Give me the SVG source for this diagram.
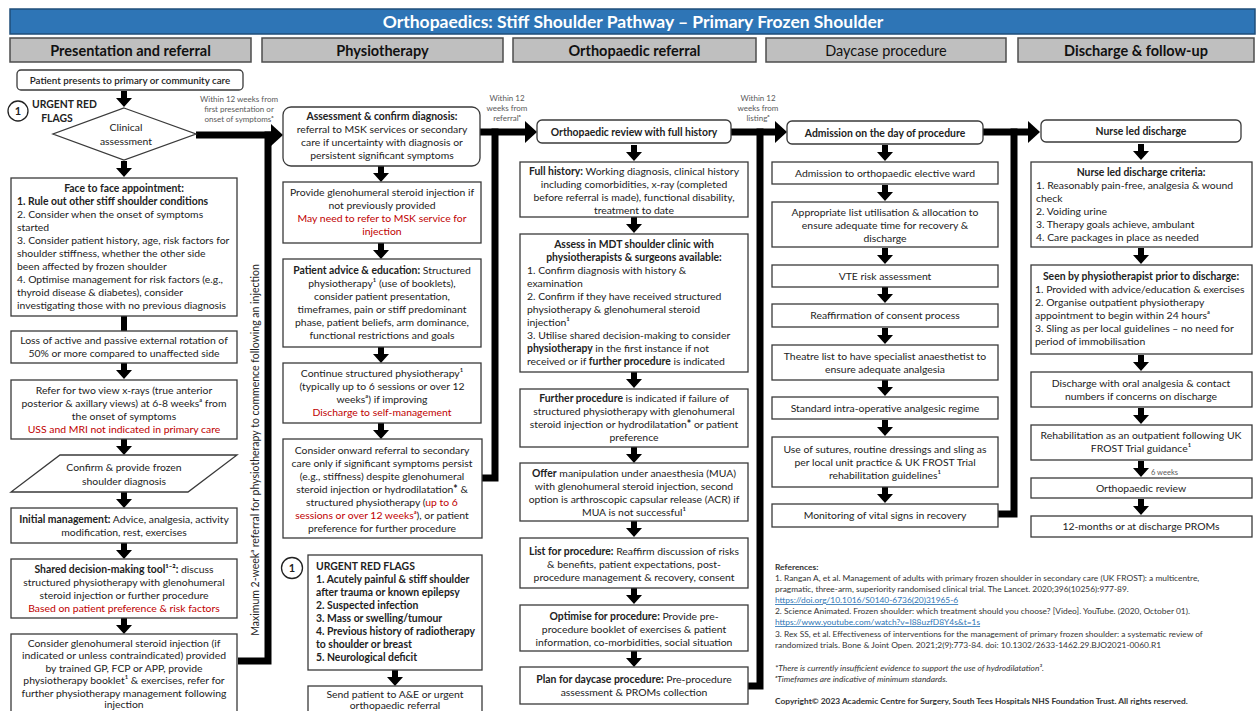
<svg xmlns="http://www.w3.org/2000/svg" width="1257" height="711" viewBox="0 0 1257 711">
<style>
text{font-family:Lato,"Liberation Sans",sans-serif;font-size:10.4px;fill:#222}
.c{text-anchor:middle}
.b{font-weight:bold}
.r{fill:#C00000}
.lbl{font-size:8px;fill:#595959}
.box{fill:#fff;stroke:#3a3a3a;stroke-width:1.3}
.hdr{fill:#BFBFBF;stroke:#4d4d4d;stroke-width:1.5}
.hdrt{font-size:14.5px;font-weight:bold;fill:#111;text-anchor:middle}
.conn{fill:none;stroke:#000;stroke-width:7}
.ref{font-size:8.4px;fill:#333}
.lnk{fill:#2E75B6;text-decoration:underline}
.it{font-style:italic}
</style>
<defs>
<path id="da" d="M-3,0H3V7H8L0,16L-8,7H-3Z" fill="#000"/>
</defs>
<rect width="1257" height="711" fill="#fff"/>

<g id="title">
<rect x="10" y="9" width="1245" height="25" fill="#2E75B6" stroke="#1F4E79" stroke-width="1.5"/>
<text x="633" y="27.5" class="c b" style="font-size:17.5px;fill:#fff">Orthopaedics: Stiff Shoulder Pathway – Primary Frozen Shoulder</text>
</g>

<g id="headers">
<g id="hdr-presentation"><rect class="hdr" x="10" y="38" width="241" height="24"/><text class="hdrt" x="130.5" y="55.5">Presentation and referral</text></g>
<g id="hdr-physio"><rect class="hdr" x="262" y="38" width="241" height="24"/><text class="hdrt" x="382.5" y="55.5">Physiotherapy</text></g>
<g id="hdr-ortho"><rect class="hdr" x="513" y="38" width="243" height="24"/><text class="hdrt" x="634.5" y="55.5">Orthopaedic referral</text></g>
<g id="hdr-daycase"><rect class="hdr" x="766" y="38" width="240" height="24"/><text class="hdrt" x="886" y="55.5" style="font-weight:normal">Daycase procedure</text></g>
<g id="hdr-discharge"><rect class="hdr" x="1018" y="38" width="236" height="24"/><text class="hdrt" x="1136" y="55.5">Discharge &amp; follow-up</text></g>
</g>

<g id="connectors">
<use href="#da" x="124" y="91"/>
<use href="#da" x="124" y="161"/>
<path class="conn" style="stroke-width:6" d="M124,316V331"/>
<use href="#da" x="124" y="363"/>
<use href="#da" x="124" y="439"/>
<use href="#da" x="124" y="492"/>
<use href="#da" x="124" y="543"/>
<use href="#da" x="124" y="618"/>
<use href="#da" x="381" y="166"/>
<use href="#da" x="381" y="243"/>
<use href="#da" x="381" y="347"/>
<use href="#da" x="381" y="423"/>
<use href="#da" x="395" y="670"/>
<use href="#da" x="634" y="145"/>
<use href="#da" x="634" y="217"/>
<use href="#da" x="634" y="372"/>
<use href="#da" x="634" y="447"/>
<use href="#da" x="634" y="521"/>
<use href="#da" x="634" y="588"/>
<use href="#da" x="634" y="651"/>
<use href="#da" x="885" y="145"/>
<use href="#da" x="885" y="185"/>
<use href="#da" x="885" y="248"/>
<use href="#da" x="885" y="287"/>
<use href="#da" x="885" y="328"/>
<use href="#da" x="885" y="380"/>
<use href="#da" x="885" y="420"/>
<use href="#da" x="885" y="487"/>
<use href="#da" x="1141" y="144"/>
<use href="#da" x="1141" y="248"/>
<use href="#da" x="1141" y="355"/>
<use href="#da" x="1141" y="408"/>
<use href="#da" x="1141" y="461"/>
<use href="#da" x="1141" y="499"/>
<text x="1151" y="475" style="font-size:7.5px;fill:#595959">6 weeks</text>

<path class="conn" d="M196,135H272"/>
<polygon points="271,124 283,135 271,146" fill="#000"/>
<path class="conn" d="M268,131.5V661H238"/>
<text class="lbl" x="239" y="102" text-anchor="middle">Within 12 weeks from</text>
<text class="lbl" x="239" y="112" text-anchor="middle">first presentation or</text>
<text class="lbl" x="239" y="122" text-anchor="middle">onset of symptomsᵃ</text>
<text transform="translate(259,450) rotate(-90)" class="c" style="font-size:10.5px">Maximum 2-weekᵃ referral for physiotherapy to commence following an injection</text>

<path class="conn" d="M480,132H526"/>
<polygon points="525,121 537,132 525,143" fill="#000"/>
<path class="conn" d="M495,128.5V478H482"/>
<text class="lbl" x="507" y="101" text-anchor="middle">Within 12</text>
<text class="lbl" x="507" y="111" text-anchor="middle">weeks from</text>
<text class="lbl" x="507" y="121" text-anchor="middle">referralᵃ</text>

<path class="conn" d="M731,132H776"/>
<polygon points="775,121 787,132 775,143" fill="#000"/>
<path class="conn" d="M760,128.5V686H748"/>
<text class="lbl" x="758" y="101" text-anchor="middle">Within 12</text>
<text class="lbl" x="758" y="111" text-anchor="middle">weeks from</text>
<text class="lbl" x="758" y="121" text-anchor="middle">listingᵃ</text>

<path class="conn" d="M983,132H1029"/>
<polygon points="1028,121 1040,132 1028,143" fill="#000"/>
<path class="conn" d="M1014,128.5V514H998"/>
</g>

<g id="n-patient-presents">
<rect class="box" x="17" y="70" width="226" height="20" rx="4"/>
<text x="130" y="84" class="c" style="font-weight:600;font-size:9.8px">Patient presents to primary or community care</text>
</g>
<g id="n-urgent-flag-1">
<circle cx="18" cy="111" r="10" fill="#fff" stroke="#222" stroke-width="1.3"/>
<text x="18" y="115" class="c b" style="font-size:11px">1</text>
<text x="32" y="108" class="b">URGENT RED</text>
<text x="57" y="122" class="c b">FLAGS</text>
</g>
<g id="n-clinical-assessment">
<polygon class="box" points="124,108 196,134 124,160 53,134"/>
<text x="126" y="131" class="c">Clinical</text>
<text x="126" y="145" class="c">assessment</text>
</g>
<g id="n-face-to-face">
<rect class="box" x="11" y="178" width="226" height="138"/>
<text x="124" y="192" class="c b">Face to face appointment:</text>
<text x="17" y="205" class="b">1. Rule out other stiff shoulder conditions</text>
<text x="17" y="218">2. Consider when the onset of symptoms</text>
<text x="17" y="231">started</text>
<text x="17" y="244">3. Consider patient history, age, risk factors for</text>
<text x="17" y="257">shoulder stiffness, whether the other side</text>
<text x="17" y="270">been affected by frozen shoulder</text>
<text x="17" y="283">4. Optimise management for risk factors (e.g.,</text>
<text x="17" y="296">thyroid disease &amp; diabetes), consider</text>
<text x="17" y="309">investigating those with no previous diagnosis</text>
</g>
<g id="n-loss-rotation">
<rect class="box" x="11" y="331" width="226" height="32"/>
<text x="124" y="344" class="c">Loss of active and passive external rotation of</text>
<text x="124" y="357" class="c">50% or more compared to unaffected side</text>
</g>
<g id="n-xrays">
<rect class="box" x="11" y="380" width="226" height="59"/>
<text x="124" y="394" class="c">Refer for two view x-rays (true anterior</text>
<text x="124" y="407" class="c">posterior &amp; axillary views) at 6-8 weeksᵃ from</text>
<text x="124" y="420" class="c">the onset of symptoms</text>
<text x="124" y="433" class="c r">USS and MRI not indicated in primary care</text>
</g>
<g id="n-confirm-diagnosis">
<polygon class="box" points="60,455 237,455 188,492 11,492"/>
<text x="124" y="471" class="c">Confirm &amp; provide frozen</text>
<text x="124" y="485" class="c">shoulder diagnosis</text>
</g>
<g id="n-initial-management">
<rect class="box" x="11" y="508" width="226" height="35"/>
<text x="124" y="523" class="c"><tspan class="b">Initial management:</tspan> Advice, analgesia, activity</text>
<text x="124" y="536" class="c">modification, rest, exercises</text>
</g>
<g id="n-shared-decision">
<rect class="box" x="11" y="559" width="226" height="59"/>
<text x="124" y="573" class="c"><tspan class="b">Shared decision-making tool¹⁻²:</tspan> discuss</text>
<text x="124" y="586" class="c">structured physiotherapy with glenohumeral</text>
<text x="124" y="599" class="c">steroid injection or further procedure</text>
<text x="124" y="612" class="c r">Based on patient preference &amp; risk factors</text>
</g>
<g id="n-consider-injection">
<rect class="box" x="11" y="634" width="226" height="90"/>
<text x="124" y="646.5" class="c">Consider glenohumeral steroid injection (if</text>
<text x="124" y="659" class="c">indicated or unless contraindicated) provided</text>
<text x="124" y="671.5" class="c">by trained GP, FCP or APP, provide</text>
<text x="124" y="684" class="c">physiotherapy booklet¹ &amp; exercises, refer for</text>
<text x="124" y="696.5" class="c">further physiotherapy management following</text>
<text x="124" y="708" class="c">injection</text>
</g>

<g id="n-assessment-confirm">
<rect class="box" x="283" y="107" width="197" height="59" rx="8"/>
<text x="382" y="120" class="c b">Assessment &amp; confirm diagnosis:</text>
<text x="382" y="133" class="c">referral to MSK services or secondary</text>
<text x="382" y="146" class="c">care if uncertainty with diagnosis or</text>
<text x="382" y="159" class="c">persistent significant symptoms</text>
</g>
<g id="n-provide-injection">
<rect class="box" x="283" y="182" width="198" height="61"/>
<text x="382" y="196" class="c">Provide glenohumeral steroid injection if</text>
<text x="382" y="209" class="c">not previously provided</text>
<text x="382" y="222" class="c r">May need to refer to MSK service for</text>
<text x="382" y="235" class="c r">injection</text>
</g>
<g id="n-patient-advice">
<rect class="box" x="283" y="259" width="198" height="88"/>
<text x="382" y="274" class="c"><tspan class="b">Patient advice &amp; education:</tspan> Structured</text>
<text x="382" y="287" class="c">physiotherapy¹ (use of booklets),</text>
<text x="382" y="300" class="c">consider patient presentation,</text>
<text x="382" y="313" class="c">timeframes, pain or stiff predominant</text>
<text x="382" y="326" class="c">phase, patient beliefs, arm dominance,</text>
<text x="382" y="339" class="c">functional restrictions and goals</text>
</g>
<g id="n-continue-physio">
<rect class="box" x="283" y="363" width="198" height="60"/>
<text x="382" y="377" class="c">Continue structured physiotherapy¹</text>
<text x="382" y="390" class="c">(typically up to 6 sessions or over 12</text>
<text x="382" y="403" class="c">weeksᵃ) if improving</text>
<text x="382" y="416" class="c r">Discharge to self-management</text>
</g>
<g id="n-onward-referral">
<rect class="box" x="283" y="439" width="199" height="99"/>
<text x="382" y="454" class="c">Consider onward referral to secondary</text>
<text x="382" y="467" class="c">care only if significant symptoms persist</text>
<text x="382" y="480" class="c">(e.g., stiffness) despite glenohumeral</text>
<text x="382" y="493" class="c">steroid injection or hydrodilatation<tspan class="b">*</tspan> &amp;</text>
<text x="382" y="506" class="c">structured physiotherapy (<tspan class="r">up to 6</tspan></text>
<text x="382" y="519" class="c"><tspan class="r">sessions or over 12 weeksᵃ</tspan>), or patient</text>
<text x="382" y="532" class="c">preference for further procedure</text>
</g>
<g id="n-urgent-red-flags">
<circle cx="292" cy="568" r="10.5" fill="#fff" stroke="#222" stroke-width="1.3"/>
<text x="292" y="572" class="c b" style="font-size:11px">1</text>
<rect class="box" x="308" y="555" width="174" height="115"/>
<text x="316" y="570" class="b">URGENT RED FLAGS</text>
<text x="316" y="583" class="b">1. Acutely painful &amp; stiff shoulder</text>
<text x="316" y="596" class="b">after trauma or known epilepsy</text>
<text x="316" y="609" class="b">2. Suspected infection</text>
<text x="316" y="622" class="b">3. Mass or swelling/tumour</text>
<text x="316" y="635" class="b">4. Previous history of radiotherapy</text>
<text x="316" y="648" class="b">to shoulder or breast</text>
<text x="316" y="661" class="b">5. Neurological deficit</text>
</g>
<g id="n-send-ae">
<rect class="box" x="308" y="686" width="174" height="40"/>
<text x="395" y="698" class="c">Send patient to A&amp;E or urgent</text>
<text x="395" y="708.5" class="c">orthopaedic referral</text>
</g>

<g id="n-ortho-review">
<rect class="box" x="537" y="120" width="194" height="23" rx="5"/>
<text x="634" y="136" class="c b">Orthopaedic review with full history</text>
</g>
<g id="n-full-history">
<rect class="box" x="520" y="162" width="228" height="55"/>
<text x="634" y="175" class="c"><tspan class="b">Full history:</tspan> Working diagnosis, clinical history</text>
<text x="634" y="188" class="c">including comorbidities, x-ray (completed</text>
<text x="634" y="201" class="c">before referral is made), functional disability,</text>
<text x="634" y="214" class="c">treatment to date</text>
</g>
<g id="n-mdt">
<rect class="box" x="520" y="234" width="228" height="138"/>
<text x="634" y="248" class="c b">Assess in MDT shoulder clinic with</text>
<text x="634" y="261" class="c b">physiotherapists &amp; surgeons available:</text>
<text x="527" y="274">1. Confirm diagnosis with history &amp;</text>
<text x="527" y="287">examination</text>
<text x="527" y="300">2. Confirm if they have received structured</text>
<text x="527" y="313">physiotherapy &amp; glenohumeral steroid</text>
<text x="527" y="326">injection¹</text>
<text x="527" y="339">3. Utilise shared decision-making to consider</text>
<text x="527" y="352"><tspan class="b">physiotherapy</tspan> in the first instance if not</text>
<text x="527" y="365">received or if <tspan class="b">further procedure</tspan> is indicated</text>
</g>
<g id="n-further-procedure">
<rect class="box" x="520" y="389" width="228" height="58"/>
<text x="634" y="402" class="c"><tspan class="b">Further procedure</tspan> is indicated if failure of</text>
<text x="634" y="415" class="c">structured physiotherapy with glenohumeral</text>
<text x="634" y="428" class="c">steroid injection or hydrodilatation<tspan class="b">*</tspan> or patient</text>
<text x="634" y="441" class="c">preference</text>
</g>
<g id="n-offer-mua">
<rect class="box" x="520" y="463" width="228" height="58"/>
<text x="634" y="477" class="c"><tspan class="b">Offer</tspan> manipulation under anaesthesia (MUA)</text>
<text x="634" y="490" class="c">with glenohumeral steroid injection, second</text>
<text x="634" y="503" class="c">option is arthroscopic capsular release (ACR) if</text>
<text x="634" y="516" class="c">MUA is not successful¹</text>
</g>
<g id="n-list-procedure">
<rect class="box" x="520" y="538" width="228" height="50"/>
<text x="634" y="555" class="c"><tspan class="b">List for procedure:</tspan> Reaffirm discussion of risks</text>
<text x="634" y="568" class="c">&amp; benefits, patient expectations, post-</text>
<text x="634" y="581" class="c">procedure management &amp; recovery, consent</text>
</g>
<g id="n-optimise">
<rect class="box" x="520" y="605" width="228" height="46"/>
<text x="634" y="620" class="c"><tspan class="b">Optimise for procedure:</tspan> Provide pre-</text>
<text x="634" y="633" class="c">procedure booklet of exercises &amp; patient</text>
<text x="634" y="646" class="c">information, co-morbidities, social situation</text>
</g>
<g id="n-plan-daycase">
<rect class="box" x="520" y="667" width="228" height="37"/>
<text x="634" y="683" class="c"><tspan class="b">Plan for daycase procedure:</tspan> Pre-procedure</text>
<text x="634" y="696" class="c">assessment &amp; PROMs collection</text>
</g>

<g id="n-admission-day">
<rect class="box" x="787" y="121" width="196" height="23" rx="5"/>
<text x="885" y="137" class="c b">Admission on the day of procedure</text>
</g>
<g id="n-admission-ward">
<rect class="box" x="772" y="162" width="226" height="22"/>
<text x="885" y="177" class="c">Admission to orthopaedic elective ward</text>
</g>
<g id="n-list-utilisation">
<rect class="box" x="772" y="202" width="226" height="45"/>
<text x="885" y="216" class="c">Appropriate list utilisation &amp; allocation to</text>
<text x="885" y="229" class="c">ensure adequate time for recovery &amp;</text>
<text x="885" y="242" class="c">discharge</text>
</g>
<g id="n-vte">
<rect class="box" x="772" y="265" width="226" height="22"/>
<text x="885" y="280" class="c">VTE risk assessment</text>
</g>
<g id="n-consent">
<rect class="box" x="772" y="304" width="226" height="23"/>
<text x="885" y="319" class="c">Reaffirmation of consent process</text>
</g>
<g id="n-theatre">
<rect class="box" x="772" y="345" width="226" height="35"/>
<text x="885" y="360" class="c">Theatre list to have specialist anaesthetist to</text>
<text x="885" y="373" class="c">ensure adequate analgesia</text>
</g>
<g id="n-analgesic">
<rect class="box" x="772" y="397" width="226" height="22"/>
<text x="885" y="412" class="c">Standard intra-operative analgesic regime</text>
</g>
<g id="n-sutures">
<rect class="box" x="772" y="437" width="226" height="50"/>
<text x="885" y="453" class="c">Use of sutures, routine dressings and sling as</text>
<text x="885" y="466" class="c">per local unit practice &amp; UK FROST Trial</text>
<text x="885" y="479" class="c">rehabilitation guidelines¹</text>
</g>
<g id="n-monitoring">
<rect class="box" x="772" y="504" width="226" height="23"/>
<text x="885" y="519" class="c">Monitoring of vital signs in recovery</text>
</g>

<g id="n-nurse-led">
<rect class="box" x="1041" y="120" width="200" height="22" rx="5"/>
<text x="1141" y="135" class="c b">Nurse led discharge</text>
</g>
<g id="n-nurse-criteria">
<rect class="box" x="1031" y="162" width="221" height="85"/>
<text x="1141" y="176" class="c b">Nurse led discharge criteria:</text>
<text x="1036" y="189">1. Reasonably pain-free, analgesia &amp; wound</text>
<text x="1036" y="202">check</text>
<text x="1036" y="215">2. Voiding urine</text>
<text x="1036" y="228">3. Therapy goals achieve, ambulant</text>
<text x="1036" y="241">4. Care packages in place as needed</text>
</g>
<g id="n-seen-physio">
<rect class="box" x="1031" y="265" width="221" height="89"/>
<text x="1141" y="280" class="c b">Seen by physiotherapist prior to discharge:</text>
<text x="1035" y="293">1. Provided with advice/education &amp; exercises</text>
<text x="1035" y="306">2. Organise outpatient physiotherapy</text>
<text x="1035" y="319">appointment to begin within 24 hoursᵃ</text>
<text x="1035" y="332">3. Sling as per local guidelines – no need for</text>
<text x="1035" y="345">period of immobilisation</text>
</g>
<g id="n-oral-analgesia">
<rect class="box" x="1031" y="372" width="221" height="35"/>
<text x="1141" y="387" class="c">Discharge with oral analgesia &amp; contact</text>
<text x="1141" y="400" class="c">numbers if concerns on discharge</text>
</g>
<g id="n-rehabilitation">
<rect class="box" x="1031" y="425" width="221" height="35"/>
<text x="1141" y="439" class="c">Rehabilitation as an outpatient following UK</text>
<text x="1141" y="452" class="c">FROST Trial guidance¹</text>
</g>
<g id="n-ortho-review-2">
<rect class="box" x="1031" y="478" width="221" height="20"/>
<text x="1141" y="492" class="c">Orthopaedic review</text>
</g>
<g id="n-proms">
<rect class="box" x="1031" y="516" width="221" height="21"/>
<text x="1141" y="530" class="c">12-months or at discharge PROMs</text>
</g>

<g id="references">
<text x="775" y="570" class="ref b">References:</text>
<text x="775" y="581" class="ref">1. Rangan A, et al. Management of adults with primary frozen shoulder in secondary care (UK FROST): a multicentre,</text>
<text x="775" y="592" class="ref">pragmatic, three-arm, superiority randomised clinical trial. The Lancet. 2020;396(10256):977-89.</text>
<text x="775" y="603" class="ref lnk">https://doi.org/10.1016/S0140-6736(20)31965-6</text>
<text x="775" y="614" class="ref">2. Science Animated. Frozen shoulder: which treatment should you choose? [Video]. YouTube. (2020, October 01).</text>
<text x="775" y="625" class="ref lnk">https://www.youtube.com/watch?v=I88uzfD8Y4s&amp;t=1s</text>
<text x="775" y="637" class="ref">3. Rex SS, et al. Effectiveness of interventions for the management of primary frozen shoulder: a systematic review of</text>
<text x="775" y="648" class="ref">randomized trials. Bone &amp; Joint Open. 2021;2(9):773-84. doi: 10.1302/2633-1462.29.BJO2021-0060.R1</text>
<text x="775" y="671" class="ref it">*There is currently insufficient evidence to support the use of hydrodilatation³.</text>
<text x="775" y="682" class="ref it">ᵃTimeframes are indicative of minimum standards.</text>
<text x="775" y="704" class="ref b">Copyright© 2023 Academic Centre for Surgery, South Tees Hospitals NHS Foundation Trust. All rights reserved.</text>
</g>
</svg>
